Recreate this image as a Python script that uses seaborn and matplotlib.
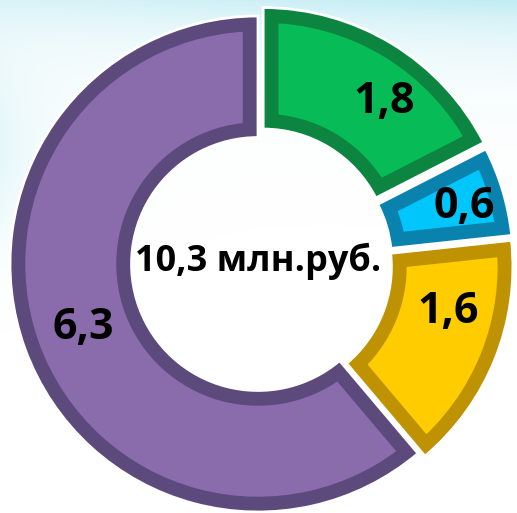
import numpy as np
import matplotlib
matplotlib.use("Agg")
import matplotlib.pyplot as plt
import seaborn as sns

# ---- data ----
labels = ["1,8", "0,6", "1,6", "6,3"]
values = [1.8, 0.6, 1.6, 6.3]
total_label = "10,3 млн.руб."

# ---- style ----
face_colors = sns.color_palette(["#07BC57", "#00C6FB", "#FFCC00", "#8A6CAD"])
bevel_colors = sns.color_palette(["#0B8540", "#0A82AE", "#BE9200", "#5C4A7C"])
explode = [0.04, 0.03, 0.03, 0.0]
label_frac = [0.40, 0.45, 0.64, 0.50]     # angular position of label inside its slice
label_r = [0.83, 0.865, 0.79, 0.75]

sns.set_theme(style="white")
plt.rcParams['font.family'] = ['Open Sans', 'DejaVu Sans']

W, H = 517, 513
fig = plt.figure(figsize=(W / 100, H / 100), dpi=100)
fig.patch.set_facecolor("white")

# soft background glow
bg = fig.add_axes([0, 0, 1, 1], zorder=0)
yy, xx = np.mgrid[0:H, 0:W]
alpha = 0.65 * np.exp(-yy / 45.0) * (0.6 + 0.4 * xx / W)
alpha += 0.25 * np.exp(-xx / 50.0) * np.exp(-((yy - 150) / 90.0) ** 2)
alpha = np.clip(alpha, 0, 1)
img = np.zeros((H, W, 4))
img[..., 0] = 0.62
img[..., 1] = 0.89
img[..., 2] = 0.93
img[..., 3] = alpha
bg.imshow(img, aspect="auto", interpolation="bilinear")
bg.set_axis_off()

ax = fig.add_axes([0, 0, 1, 1], zorder=1)
ax.patch.set_alpha(0)

common = dict(startangle=90, counterclock=False, radius=1.0, explode=explode)
wedges, _ = ax.pie(values, wedgeprops=dict(width=0.49, linewidth=0), **common)
for wdg, fc, bc in zip(wedges, face_colors, bevel_colors):
    wdg.set_facecolor(fc)
    wdg.set_edgecolor(bc)
    wdg.set_linewidth(22)
    wdg.set_joinstyle("miter")
    wdg.set_clip_on(True)
    wdg.set_clip_path(wdg)

# white separators between slices
ax.pie(values, wedgeprops=dict(width=0.49, linewidth=2, edgecolor="white",
                               facecolor="none"), **common)

for wdg, lab, fr, rr in zip(wedges, labels, label_frac, label_r):
    ang = np.deg2rad(wdg.theta1 + fr * (wdg.theta2 - wdg.theta1))
    ax.text(rr * np.cos(ang), rr * np.sin(ang), lab, ha="center", va="center",
            fontsize=31, fontweight="bold", color="black")

ax.text(0, 0.01, total_label, ha="center", va="center", fontsize=26,
        fontweight="bold", color="black")

cx, cy, R = 258, 264, 248
ax.set_xlim(-cx / R, (W - cx) / R)
ax.set_ylim(-(H - cy) / R, cy / R)
ax.set_aspect("equal")
ax.set_axis_off()

fig.savefig("out.png", dpi=100)
